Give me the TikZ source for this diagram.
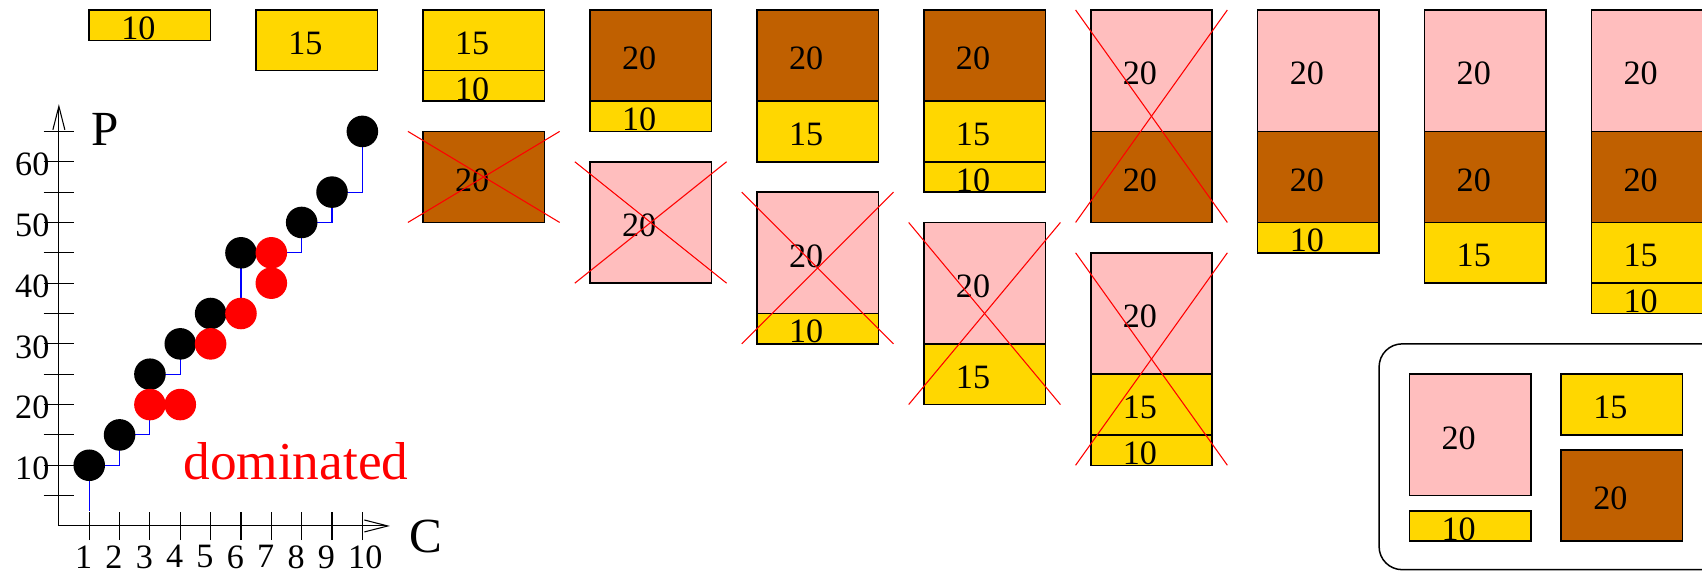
\documentclass[tikz,border=0pt]{standalone}
\usepackage{fontspec}
\setmainfont{Liberation Serif}
\usepackage{tikz}
\usetikzlibrary{arrows.meta}
\definecolor{itemgold}{RGB}{255, 215, 0}
\definecolor{itembrown}{RGB}{192, 96, 0}
\definecolor{itempink}{RGB}{255, 190, 190}

\tikzset{
  boxline/.style={draw=black, line width=0.7pt},
  itemlabel/.style={font=\fontsize{16}{19}\selectfont, inner sep=0pt},
  crossline/.style={red, line width=0.5pt},
  axisline/.style={black, line width=0.5pt},
  stairline/.style={blue, line width=0.5pt},
  ticklabel/.style={font=\fontsize{16}{19}\selectfont, inner sep=0pt},
  axislabel/.style={font=\fontsize{23}{27}\selectfont, inner sep=0pt},
}

% item box: name, colour, left x, top y, height, profit
\newcommand{\kitem}[6]{%
  \filldraw[boxline, fill=#2] (#3,#4) rectangle ({#3+4},{#4-#5});
  \node[itemlabel] (#1) at ({#3+1.62},{#4-#5/2-0.1}) {#6};}
% red cross: left x, top y, height
\newcommand{\kcross}[3]{%
  \draw[crossline] ({#1-0.5},#2) -- ({#1+4.5},{#2-#3});
  \draw[crossline] ({#1-0.5},{#2-#3}) -- ({#1+4.5},#2);}

\begin{document}
\begin{tikzpicture}[x=0.5cm, y=0.5cm]
\useasboundingbox (-1.94,-1.48) rectangle (54.14,17.33);
\clip (-1.94,-1.48) rectangle (54.14,17.33);

% Axes
\draw[axisline, -{Straight Barb[length=11pt, width=5.6pt]}] (0,0) -- (0,13.9);
\draw[axisline, -{Straight Barb[length=11pt, width=5.6pt]}] (0,0) -- (10.91,0);
\foreach \p in {5,10,...,65}
  \draw[axisline] (-0.5,{\p/5}) -- (0.5,{\p/5});
\foreach \p in {10,20,...,60}
  \node[ticklabel, anchor=east] (p\p) at (-0.3,{\p/5-0.1}) {\p};
\foreach \c in {1,...,10} {
  \draw[axisline] (\c,-0.47) -- (\c,0.47);
  \node[ticklabel, anchor=north west] (c\c) at ({\c-0.48},-0.63) {\c};
}
\node[axislabel] (plabel) at (1.51,13.06) {P};
\node[axislabel] (clabel) at (12.09,-0.35) {C};

% Pareto staircase and points
\draw[stairline] (1,0.5) -- (1,2) -- (2,2) -- (2,3) -- (3,3) -- (3,5) -- (4,5)
  -- (4,6) -- (5,6) -- (5,7) -- (6,7) -- (6,9) -- (8,9) -- (8,10) -- (9,10)
  -- (9,11) -- (10,11) -- (10,13);
\foreach \c/\p in {1/10, 2/15, 3/25, 4/30, 5/35, 6/45, 8/50, 9/55, 10/65}
  \fill[black] (\c,{\p/5}) circle (0.52);
\foreach \c/\p in {3/20, 4/20, 5/30, 6/35, 7/40, 7/45}
  \fill[red] (\c,{\p/5}) circle (0.52);
\node[font=\fontsize{25}{30}\selectfont, text=red, inner sep=0pt, anchor=base]
  (dom) at (7.81,1.52) {dominated};

% Packings, C = 1 and C = 2
\kitem{a1}{itemgold}{1}{17}{1}{10}
\kitem{b1}{itemgold}{6.5}{17}{2}{15}

% C = 3
\kitem{c1}{itemgold}{12}{17}{2}{15}
\kitem{c2}{itemgold}{12}{15}{1}{10}
\kitem{c3}{itembrown}{12}{13}{3}{20}
\kcross{12}{13}{3}

% C = 4
\kitem{d1}{itembrown}{17.5}{17}{3}{20}
\kitem{d2}{itemgold}{17.5}{14}{1}{10}
\kitem{d3}{itempink}{17.5}{12}{4}{20}
\kcross{17.5}{12}{4}

% C = 5
\kitem{e1}{itembrown}{23}{17}{3}{20}
\kitem{e2}{itemgold}{23}{14}{2}{15}
\kitem{e3}{itempink}{23}{11}{4}{20}
\kitem{e4}{itemgold}{23}{7}{1}{10}
\kcross{23}{11}{5}

% C = 6
\kitem{f1}{itembrown}{28.5}{17}{3}{20}
\kitem{f2}{itemgold}{28.5}{14}{2}{15}
\kitem{f3}{itemgold}{28.5}{12}{1}{10}
\kitem{f4}{itempink}{28.5}{10}{4}{20}
\kitem{f5}{itemgold}{28.5}{6}{2}{15}
\kcross{28.5}{10}{6}

% C = 7, both dominated
\kitem{g1}{itempink}{34}{17}{4}{20}
\kitem{g2}{itembrown}{34}{13}{3}{20}
\kcross{34}{17}{7}
\kitem{g3}{itempink}{34}{9}{4}{20}
\kitem{g4}{itemgold}{34}{5}{2}{15}
\kitem{g5}{itemgold}{34}{3}{1}{10}
\kcross{34}{9}{7}

% C = 8, 9, 10
\kitem{h1}{itempink}{39.5}{17}{4}{20}
\kitem{h2}{itembrown}{39.5}{13}{3}{20}
\kitem{h3}{itemgold}{39.5}{10}{1}{10}
\kitem{i1}{itempink}{45}{17}{4}{20}
\kitem{i2}{itembrown}{45}{13}{3}{20}
\kitem{i3}{itemgold}{45}{10}{2}{15}
\kitem{j1}{itempink}{50.5}{17}{4}{20}
\kitem{j2}{itembrown}{50.5}{13}{3}{20}
\kitem{j3}{itemgold}{50.5}{10}{2}{15}
\kitem{j4}{itemgold}{50.5}{8}{1}{10}

% Legend: the four items
\draw[black, line width=0.7pt, rounded corners=0.38cm] (43.5,6) rectangle (56,-1.44);
\kitem{k1}{itempink}{44.5}{5}{4}{20}
\kitem{k2}{itemgold}{44.5}{0.5}{1}{10}
\kitem{k3}{itemgold}{49.5}{5}{2}{15}
\kitem{k4}{itembrown}{49.5}{2.5}{3}{20}

\end{tikzpicture}
\end{document}
